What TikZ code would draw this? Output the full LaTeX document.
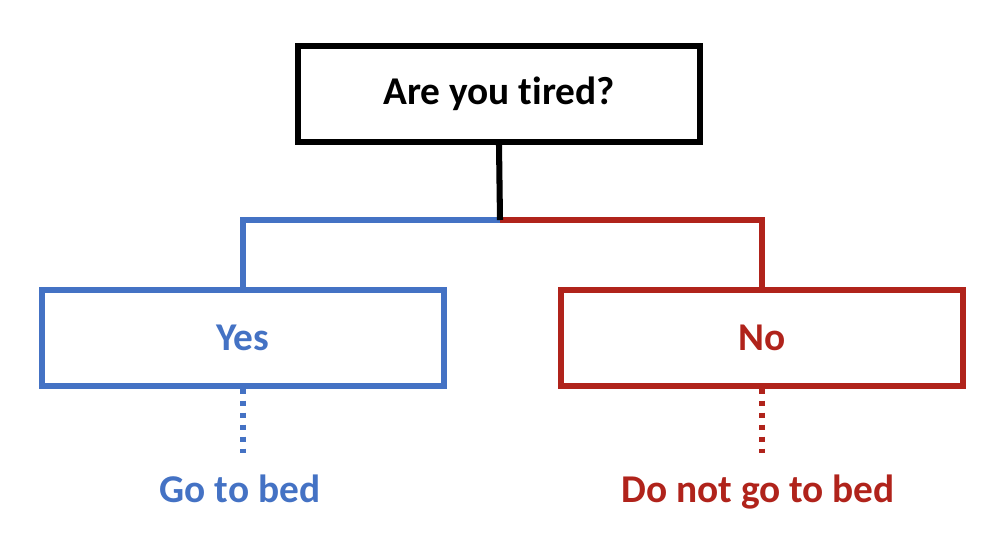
\documentclass[tikz,border=0pt]{standalone}
\usepackage{fontspec}
\setmainfont{Carlito}[Ligatures=NoCommon]
\definecolor{yesblue}{HTML}{4472C4}
\definecolor{nored}{HTML}{B0231B}

\begin{document}
\begin{tikzpicture}[
  box/.style={draw,line width=4.3pt,minimum width=10.05cm,minimum height=2.4cm,
    font=\fontsize{28}{34}\selectfont\bfseries},
  link/.style={line width=4.3pt},
  dots/.style={line width=4.3pt,dash pattern=on 0.125cm off 0.175cm,shorten >=0.52cm},
  answer/.style={anchor=base,inner sep=0pt,font=\fontsize{28}{34}\selectfont\bfseries}]
\useasboundingbox (0,0) rectangle (25.15,13.5);
\node[box] (tired) at (12.475,11.15) {Are you tired?};
\node[box,yesblue] (yes) at (6.075,5.06) {Yes};
\node[box,nored] (no) at (19.04,5.06) {No};
\coordinate (split) at (12.5,8);
\draw[link,yesblue] (yes.north) |- (split);
\draw[link,nored] (no.north) |- (split);
\draw[link] (tired.south) -- (split);
\node[answer,yesblue] (bed) at (6.0,0.95) {Go to bed};
\node[answer,nored] (nobed) at (18.95,0.95) {Do not go to bed};
\draw[dots,yesblue] (yes.south) -- (yes.south |- bed.north);
\draw[dots,nored] (no.south) -- (no.south |- nobed.north);
\end{tikzpicture}
\end{document}
